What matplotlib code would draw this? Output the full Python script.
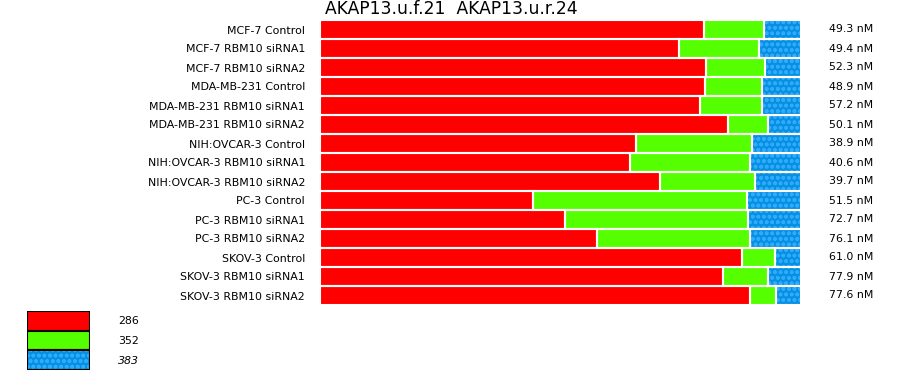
import numpy as np
import matplotlib.pyplot as plt
from matplotlib.transforms import blended_transform_factory

plt.rcParams['font.family'] = ['DejaVu Sans']
plt.rcParams['hatch.linewidth'] = 1.1

title_txt = "AKAP13.u.f.21  AKAP13.u.r.24"

samples = [
    "MCF-7 Control", "MCF-7 RBM10 siRNA1", "MCF-7 RBM10 siRNA2",
    "MDA-MB-231 Control", "MDA-MB-231 RBM10 siRNA1", "MDA-MB-231 RBM10 siRNA2",
    "NIH:OVCAR-3 Control", "NIH:OVCAR-3 RBM10 siRNA1", "NIH:OVCAR-3 RBM10 siRNA2",
    "PC-3 Control", "PC-3 RBM10 siRNA1", "PC-3 RBM10 siRNA2",
    "SKOV-3 Control", "SKOV-3 RBM10 siRNA1", "SKOV-3 RBM10 siRNA2",
]
conc_labels = [
    "49.3 nM", "49.4 nM", "52.3 nM", "48.9 nM", "57.2 nM", "50.1 nM",
    "38.9 nM", "40.6 nM", "39.7 nM", "51.5 nM", "72.7 nM", "76.1 nM",
    "61.0 nM", "77.9 nM", "77.6 nM",
]
# percentage of each product size per sample
pct_286 = [79.8, 74.6, 80.2, 80.0, 79.0, 84.8, 65.7, 64.4, 70.7, 44.3, 50.9, 57.6, 87.7, 83.8, 89.4]
pct_352 = [12.5, 16.7, 12.3, 11.9, 12.9, 8.3, 24.1, 25.0, 19.7, 44.5, 38.1, 31.8, 6.9, 9.3, 5.4]
pct_383 = [7.7, 8.7, 7.5, 8.1, 8.1, 6.9, 10.2, 10.6, 9.6, 11.2, 11.0, 10.6, 5.4, 6.9, 5.2]
series_names = ["286", "352", "383"]

red = "#ff0000"
green = "#55ff00"
blue = "#0590e0"
blue_dots = "#30aaff"

fig = plt.figure(figsize=(9, 3.75), dpi=100)
ax = fig.add_axes([320 / 900, 1 - 305 / 375, 481 / 900, 285 / 375])

y = np.arange(len(samples))
a = np.array(pct_286)
b = np.array(pct_352)
c = np.array(pct_383)

ax.barh(y, a, height=1.0, color=red, linewidth=0)
ax.barh(y, b, left=a, height=1.0, color=green, linewidth=0)
ax.barh(y, c, left=a + b, height=1.0, color=blue, edgecolor=blue_dots,
        hatch="ooo", linewidth=0)
# white separators between segments and rows
for left, w in [(0, a), (a, b), (a + b, c)]:
    ax.barh(y, w, left=left, height=1.0, fill=False, edgecolor="white", linewidth=1.5)

ax.set_xlim(0, 100)
ax.set_ylim(len(samples) - 0.5, -0.5)
ax.set_yticks(y)
ax.set_yticklabels(samples, fontsize=7.9)
ax.tick_params(axis="y", length=0, pad=10.8)
ax.set_xticks([])
for s in ax.spines.values():
    s.set_visible(False)

tr = blended_transform_factory(ax.transAxes, ax.transData)
for i, t in enumerate(conc_labels):
    ax.text((829 - 320) / 481, i, t, transform=tr, ha="left", va="center", fontsize=7.9)

fig.text(451 / 900, 1 - 9 / 375, title_txt, ha="center", va="center", fontsize=12.3)

# legend block
lax = fig.add_axes([27 / 900, 1 - 370 / 375, 63 / 900, 59 / 375])
leg_colors = [red, green, blue]
for i, col in enumerate(leg_colors):
    if i == 2:
        lax.barh(i, 1, height=1.0, color=col, edgecolor=blue_dots, hatch="ooo", linewidth=0)
    else:
        lax.barh(i, 1, height=1.0, color=col, linewidth=0)
    lax.barh(i, 1, height=1.0, fill=False, edgecolor="black", linewidth=1.5)
lax.set_xlim(0, 1)
lax.set_ylim(2.5, -0.5)
lax.axis("off")
for i, name in enumerate(series_names):
    fig.text(118 / 900, 1 - (321 + 20 * i) / 375, name, ha="left", va="center",
             fontsize=7.9, style="italic" if i == 2 else "normal")

fig.savefig("out.png", dpi=100)
